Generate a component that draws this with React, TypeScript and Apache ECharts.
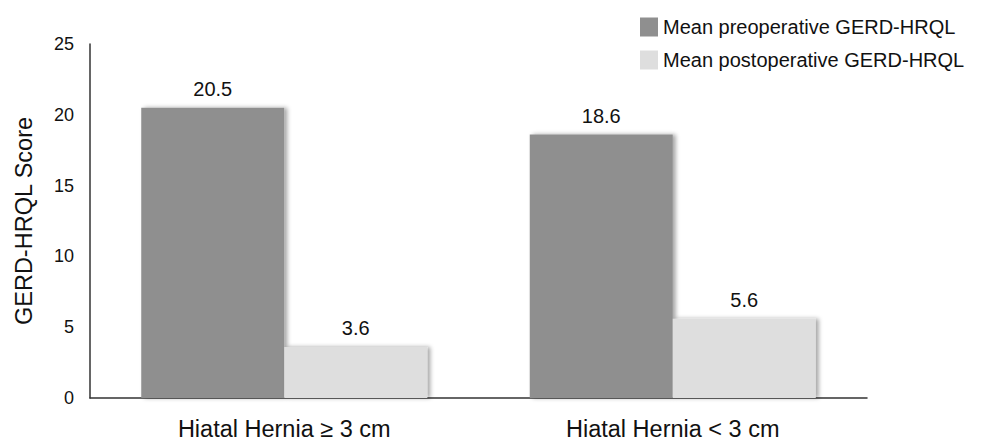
import React, { useEffect, useRef } from "react";
import * as echarts from "echarts";

const categories = ["Hiatal Hernia ≥ 3 cm", "Hiatal Hernia < 3 cm"];
const preoperative = [20.5, 18.6];
const postoperative = [3.6, 5.6];
const seriesNames = ["Mean preoperative GERD-HRQL", "Mean postoperative GERD-HRQL"];
const yTicks = { min: 0, max: 25, interval: 5 };

const FONT = "'Liberation Sans', Arial, Helvetica, sans-serif";

export default function App() {
  const ref = useRef<HTMLDivElement>(null);
  useEffect(() => {
    if (!ref.current) return;
    const chart = echarts.init(ref.current, undefined, { renderer: "svg" });
    const shadow = {
      shadowColor: "rgba(0,0,0,0.35)",
      shadowBlur: 4,
      shadowOffsetX: 3,
      shadowOffsetY: 0,
    };
    chart.setOption({
      animation: false,
      backgroundColor: "#ffffff",
      textStyle: { fontFamily: FONT, color: "#111" },
      legend: {
        orient: "vertical",
        left: 635,
        top: 12,
        itemWidth: 18,
        itemHeight: 19,
        itemGap: 13,
        icon: "rect",
        textStyle: { fontFamily: FONT, fontSize: 20, color: "#111" },
        data: seriesNames,
      },
      grid: { left: 90, right: 114, top: 44, bottom: 46, containLabel: false },
      xAxis: {
        type: "category",
        data: categories,
        axisLine: { lineStyle: { color: "#333", width: 1.5 } },
        axisTick: { show: false },
        axisLabel: { fontFamily: FONT, fontSize: 23.5, color: "#111", margin: 19 },
      },
      yAxis: {
        type: "value",
        min: yTicks.min,
        max: yTicks.max,
        interval: yTicks.interval,
        name: "GERD-HRQL Score",
        nameLocation: "middle",
        nameRotate: 90,
        nameGap: 54,
        nameTextStyle: { fontFamily: FONT, fontSize: 23.5, color: "#111" },
        axisLine: { show: true, lineStyle: { color: "#333", width: 1.5 } },
        axisTick: { show: false },
        splitLine: { show: false },
        axisLabel: { fontFamily: FONT, fontSize: 18, color: "#111", margin: 16 },
      },
      series: [
        {
          name: seriesNames[0],
          type: "bar",
          data: preoperative,
          barWidth: 143,
          barGap: "0%",
          itemStyle: { color: "#8f8f8f", ...shadow },
          label: {
            show: true,
            position: "top",
            distance: 9,
            fontFamily: FONT,
            fontSize: 20,
            color: "#111",
          },
        },
        {
          name: seriesNames[1],
          type: "bar",
          data: postoperative,
          barWidth: 143,
          barGap: "0%",
          itemStyle: { color: "#dedede", ...shadow },
          label: {
            show: true,
            position: "top",
            distance: 9,
            fontFamily: FONT,
            fontSize: 20,
            color: "#111",
          },
        },
      ],
    });
    return () => chart.dispose();
  }, []);
  return <div ref={ref} style={{ width: 981, height: 444, position: "absolute", left: 0, top: 0 }} />;
}
